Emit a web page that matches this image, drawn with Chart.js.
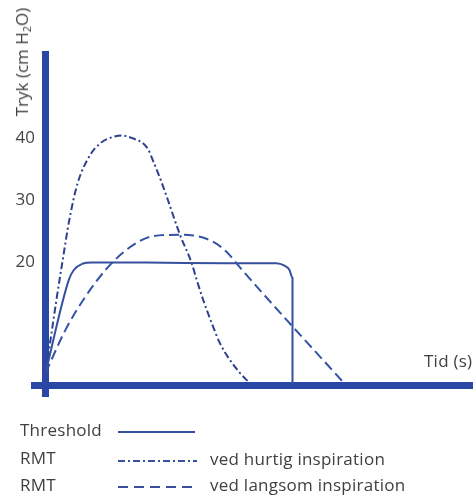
<!DOCTYPE html>
<html>
<head>
<meta charset="utf-8">
<script src="https://cdn.jsdelivr.net/npm/chart.js@4.4.1/dist/chart.umd.min.js"></script>
<style>
  html, body { margin: 0; padding: 0; background: #ffffff; }
  #wrap { position: relative; width: 475px; height: 496px; overflow: hidden; font-family: "Open Sans", sans-serif; color: #404040; }
  #c { position: absolute; left: 0; top: 0; }
  .t { position: absolute; white-space: nowrap; font-size: 17px; line-height: 20px; letter-spacing: 0.25px; }
  #ytitle { position: absolute; left: 22px; top: 62px; transform: translate(-50%, -50%) rotate(-90deg); white-space: nowrap; font-size: 17px; line-height: 20px; }
  #ytitle sub { font-size: 11px; vertical-align: -3px; line-height: 0; }
  svg { position: absolute; left: 0; top: 0; }
</style>
</head>
<body>
<div id="wrap">
  <canvas id="c" width="475" height="496"></canvas>
  <div id="ytitle">Tryk (cm H<sub>2</sub>O)</div>
  <div class="t" style="left:424px; top:351px;">Tid (s)</div>
  <div class="t" style="left:20px; top:420px;">Threshold</div>
  <div class="t" style="left:20px; top:448px;">RMT</div>
  <div class="t" style="left:20px; top:475px;">RMT</div>
  <div class="t" style="left:210px; top:449px;">ved hurtig inspiration</div>
  <div class="t" style="left:210px; top:475px;">ved langsom inspiration</div>
  <svg width="475" height="496">
    <line x1="118" y1="432" x2="195" y2="432" stroke="#34509f" stroke-width="2"/>
    <line x1="118" y1="461" x2="197" y2="461" stroke="#34509f" stroke-width="2" stroke-dasharray="7 3 2 3"/>
    <line x1="118" y1="487" x2="197" y2="487" stroke="#34509f" stroke-width="2" stroke-dasharray="10 6"/>
  </svg>
</div>
<script>
// Time (arbitrary units) and pressure (cm H2O)
const thresholdTime = [0, 2.33, 2.83, 3.67, 4.67, 10, 18, 23.07, 23.9, 24.4, 24.7, 24.7];
const thresholdPressure = [2.0, 17.1, 18.7, 19.7, 19.9, 19.9, 19.8, 19.8, 19.4, 18.7, 17.4, 0];

const fastTime = [0, 0.55, 1.05, 1.72, 2.38, 3.22, 4.45, 5.45, 6.45, 7.62, 8.78, 9.78, 10.28, 10.78, 11.45, 12.12, 13.45, 14.62, 15.12, 15.78, 16.62, 17.45, 18.45, 19.45, 20.28];
const fastPressure = [2.0, 7.9, 13.4, 20.3, 26.8, 32.8, 37.3, 39.2, 40.1, 40.5, 40.0, 39.2, 38.2, 36.3, 33.6, 30.6, 24.4, 19.8, 17.1, 13.8, 10.1, 6.8, 4.1, 2.0, 0.6];

const slowTime = [0, 2.0, 4.0, 6.0, 7.67, 9.33, 10.83, 13.4, 14.73, 16.73, 18.07, 19.4, 22.23, 24.73, 29.9];
const slowPressure = [2.0, 9.0, 14.4, 18.7, 21.4, 23.3, 24.2, 24.4, 24.3, 23.3, 21.7, 19.2, 14.0, 9.5, 0.3];

const yTickValues = [20, 30, 40];

const toPoints = (xs, ys) => xs.map((x, i) => ({ x: x, y: ys[i] }));

const AXIS = '#2a47a6';
const Y_MIN = -1.72, Y_MAX = 53.7;

new Chart(document.getElementById('c'), {
  type: 'line',
  data: {
    datasets: [
      { label: 'Threshold', data: toPoints(thresholdTime, thresholdPressure), borderColor: '#34509f', borderWidth: 2, pointRadius: 0, cubicInterpolationMode: 'monotone', fill: false },
      { label: 'RMT ved hurtig inspiration', data: toPoints(fastTime, fastPressure), borderColor: '#2e3f8f', borderWidth: 2, borderDash: [7, 3, 2, 3], pointRadius: 0, cubicInterpolationMode: 'monotone', fill: false },
      { label: 'RMT ved langsom inspiration', data: toPoints(slowTime, slowPressure), borderColor: '#3553a5', borderWidth: 2, borderDash: [10, 5], pointRadius: 0, cubicInterpolationMode: 'monotone', fill: false }
    ]
  },
  options: {
    responsive: false,
    animation: false,
    devicePixelRatio: 1,
    layout: { padding: { left: 0, top: 54, right: 3, bottom: 100 } },
    plugins: { legend: { display: false }, tooltip: { enabled: false } },
    scales: {
      x: {
        type: 'linear', min: -1.15, max: 42.65,
        position: { y: 0 },
        grid: { display: true, color: 'rgba(0,0,0,0)', drawTicks: false },
        border: { display: true, color: AXIS, width: 7 },
        ticks: { display: false }
      },
      y: {
        type: 'linear', min: Y_MIN, max: Y_MAX,
        position: 'left',
        afterFit: (s) => { s.width = 34; },
        afterBuildTicks: (s) => { s.ticks = yTickValues.map(v => ({ value: v })); },
        grid: { display: false, drawTicks: false },
        border: { display: false },
        ticks: { color: '#444444', padding: -1, font: { family: 'Open Sans', size: 17 } }
      },
      yLine: {
        type: 'linear', min: Y_MIN, max: Y_MAX,
        position: { x: 0 },
        grid: { display: true, color: 'rgba(0,0,0,0)', drawTicks: false },
        border: { display: true, color: AXIS, width: 7 },
        ticks: { display: false }
      }
    }
  }
});
</script>
</body>
</html>
